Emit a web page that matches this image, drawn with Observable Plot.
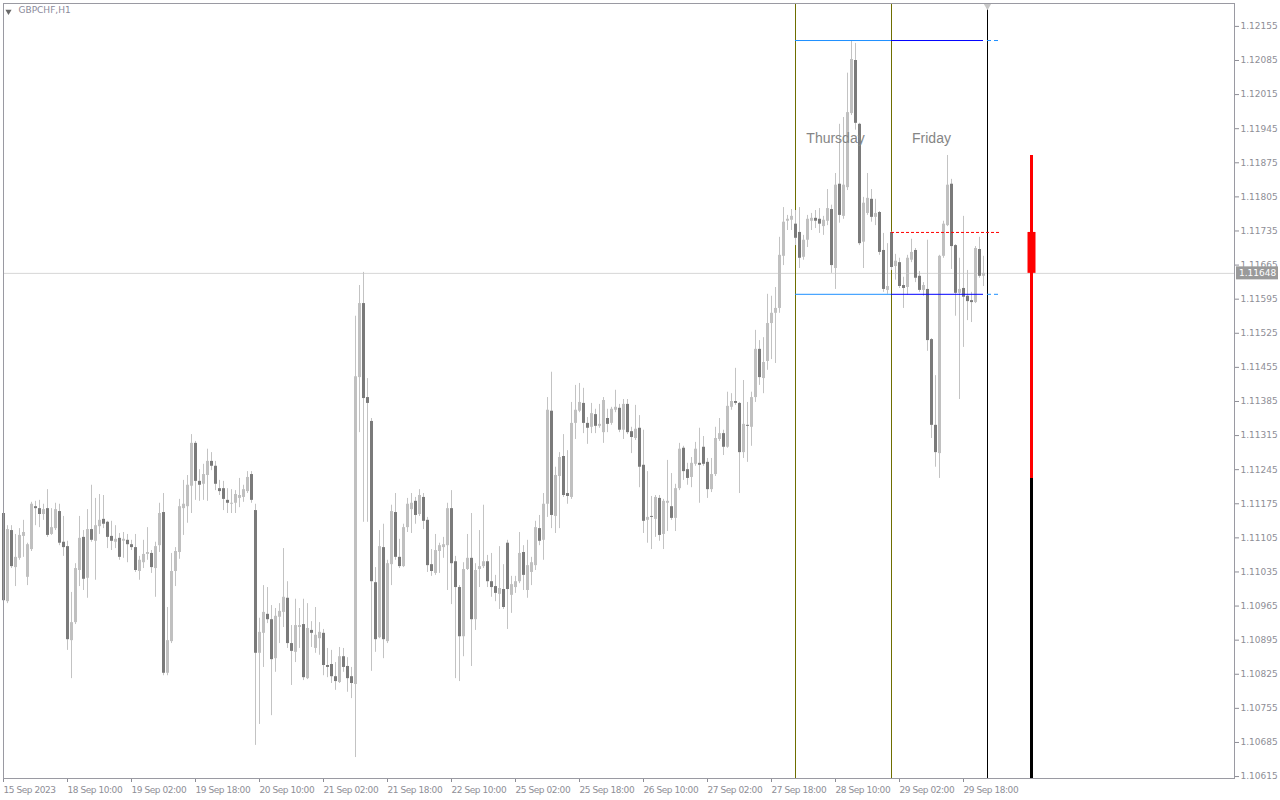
<!DOCTYPE html>
<html>
<head>
<meta charset="utf-8">
<script src="https://cdn.jsdelivr.net/npm/d3@7"></script>
<script src="https://cdn.jsdelivr.net/npm/@observablehq/plot@0.6"></script>
<style>
  html, body { margin: 0; padding: 0; background: #ffffff; }
  #chart { width: 1280px; height: 800px; }
</style>
</head>
<body>
<div id="chart"></div>
<script>
// ---- Data: GBPCHF H1 candles, 15 Sep 2023 18:00 .. 29 Sep 2023 23:00 ----
const symbolTitle = "GBPCHF,H1";
const firstBarTime = Date.UTC(2023, 8, 15, 18);

const opens = [
1.11155,1.10974,1.11120,1.11044,1.11063,1.11108,1.11024,1.11081,1.11169,1.11165,
1.11153,1.11165,1.11112,1.11124,1.11159,1.11096,1.11087,1.10894,1.10931,1.11038,
1.11106,1.11022,1.11122,1.11098,1.11128,1.11143,1.11137,1.11108,1.11096,1.11104,
1.11098,1.11100,1.11091,1.11085,1.11036,1.11054,1.11071,1.11073,1.11042,1.11089,
1.11157,1.10827,1.10892,1.11036,1.11075,1.11165,1.11169,1.11211,1.11299,1.11221,
1.11215,1.11233,1.11262,1.11252,1.11206,1.11206,1.11182,1.11174,1.11176,1.11186,
1.11188,1.11200,1.11235,1.11161,1.10868,1.10909,1.10948,1.10937,1.10857,1.10942,
1.10952,1.10981,1.10888,1.10870,1.10921,1.10927,1.10816,1.10915,1.10878,1.10898,
1.10909,1.10843,1.10845,1.10820,1.10808,1.10861,1.10841,1.10820,1.10804,1.11434,
1.11586,1.11393,1.11344,1.11013,1.10900,1.11085,1.10892,1.11050,1.11157,1.11065,
1.11046,1.11126,1.11163,1.11180,1.11153,1.11188,1.11141,1.11050,1.11032,1.11077,
1.11085,1.11089,1.11165,1.11056,1.11003,1.10902,1.11040,1.11063,1.10937,1.11040,
1.11046,1.11056,1.11015,1.11005,1.10989,1.10999,1.11094,1.10987,1.11003,1.11015,
1.11075,1.10997,1.11034,1.11048,1.11124,1.11100,1.11174,1.11365,1.11149,1.11231,
1.11272,1.11196,1.11188,1.11340,1.11365,1.11381,1.11340,1.11332,1.11358,1.11334,
1.11321,1.11350,1.11340,1.11367,1.11371,1.11326,1.11379,1.11323,1.11309,1.11330,
1.11254,1.11141,1.11149,1.11143,1.11186,1.11112,1.11176,1.11169,1.11145,1.11206,
1.11289,1.11245,1.11229,1.11256,1.11258,1.11291,1.11260,1.11204,1.11235,1.11307,
1.11319,1.11291,1.11373,1.11385,1.11381,1.11280,1.11336,1.11332,1.11393,1.11492,
1.11432,1.11467,1.11545,1.11566,1.11576,1.11683,1.11755,1.11757,1.11749,1.11732,
1.11681,1.11716,1.11755,1.11761,1.11759,1.11744,1.11755,1.11779,1.11658,1.11831,
1.11765,1.11824,1.11976,1.12085,1.11954,1.11712,1.11771,1.11800,1.11763,1.11773,
1.11695,1.11613,1.11732,1.11662,1.11670,1.11623,1.11619,1.11675,1.11695,1.11642,
1.11613,1.11615,1.11512,1.11336,1.11278,1.11683,1.11746,1.11831,1.11705,1.11607,
1.11617,1.11601,1.11592,1.11588,1.11697,1.11642];

const highs = [
1.11188,1.11130,1.11130,1.11112,1.11124,1.11141,1.11094,1.11178,1.11180,1.11182,
1.11174,1.11204,1.11165,1.11176,1.11174,1.11149,1.11098,1.10993,1.11052,1.11149,
1.11120,1.11163,1.11213,1.11186,1.11194,1.11192,1.11139,1.11139,1.11130,1.11114,
1.11116,1.11112,1.11100,1.11112,1.11067,1.11100,1.11126,1.11079,1.11096,1.11176,
1.11196,1.10962,1.11073,1.11085,1.11184,1.11223,1.11233,1.11317,1.11303,1.11245,
1.11256,1.11287,1.11280,1.11262,1.11223,1.11221,1.11206,1.11204,1.11202,1.11227,
1.11213,1.11241,1.11241,1.11174,1.10940,1.11007,1.11003,1.10966,1.10960,1.10970,
1.11083,1.11015,1.10925,1.10979,1.10960,1.10979,1.10970,1.10933,1.10962,1.10931,
1.10917,1.10878,1.10874,1.10849,1.10880,1.10878,1.10859,1.10839,1.11560,1.11623,
1.11650,1.11432,1.11350,1.11044,1.11120,1.11133,1.11059,1.11172,1.11196,1.11102,
1.11133,1.11186,1.11196,1.11188,1.11204,1.11196,1.11147,1.11081,1.11112,1.11094,
1.11106,1.11176,1.11202,1.11067,1.11007,1.11054,1.11112,1.11155,1.11052,1.11120,
1.11172,1.11069,1.11073,1.11028,1.11087,1.11050,1.11100,1.11026,1.11026,1.11116,
1.11089,1.11100,1.11065,1.11139,1.11151,1.11196,1.11393,1.11445,1.11250,1.11280,
1.11317,1.11284,1.11383,1.11418,1.11422,1.11412,1.11352,1.11381,1.11369,1.11379,
1.11393,1.11369,1.11373,1.11408,1.11379,1.11389,1.11389,1.11332,1.11377,1.11356,
1.11326,1.11241,1.11190,1.11192,1.11192,1.11184,1.11264,1.11237,1.11215,1.11299,
1.11293,1.11258,1.11270,1.11301,1.11330,1.11313,1.11268,1.11268,1.11332,1.11350,
1.11326,1.11404,1.11401,1.11453,1.11383,1.11428,1.11383,1.11404,1.11531,1.11510,
1.11516,1.11605,1.11601,1.11619,1.11722,1.11783,1.11767,1.11779,1.11777,1.11783,
1.11726,1.11767,1.11771,1.11777,1.11781,1.11765,1.11820,1.11788,1.11853,1.11954,
1.11968,1.12059,1.12126,1.12120,1.11956,1.11804,1.11853,1.11820,1.11800,1.11775,
1.11730,1.11709,1.11733,1.11687,1.11679,1.11640,1.11685,1.11718,1.11699,1.11652,
1.11629,1.11716,1.11514,1.11438,1.11685,1.11755,1.11890,1.11841,1.11707,1.11679,
1.11765,1.11654,1.11609,1.11703,1.11722,1.11683];

const lows = [
1.10972,1.10970,1.11042,1.11005,1.11059,1.11065,1.11007,1.11077,1.11130,1.11126,
1.11141,1.11106,1.11110,1.11120,1.11089,1.11067,1.10874,1.10816,1.10927,1.11005,
1.10997,1.10981,1.11096,1.11018,1.11112,1.11124,1.11083,1.11079,1.11083,1.11059,
1.11063,1.11054,1.11079,1.11034,1.11018,1.11042,1.11059,1.11032,1.10983,1.11075,
1.10822,1.10822,1.10888,1.11005,1.11061,1.11110,1.11135,1.11155,1.11182,1.11180,
1.11182,1.11180,1.11243,1.11202,1.11192,1.11161,1.11155,1.11155,1.11155,1.11167,
1.11178,1.11196,1.11176,1.10679,1.10722,1.10839,1.10929,1.10740,1.10829,1.10888,
1.10921,1.10878,1.10802,1.10849,1.10878,1.10812,1.10814,1.10880,1.10868,1.10864,
1.10822,1.10818,1.10806,1.10792,1.10806,1.10829,1.10788,1.10775,1.10654,1.11321,
1.11137,1.11137,1.10831,1.10870,1.10898,1.10857,1.10888,1.11007,1.11059,1.11042,
1.11044,1.11116,1.11114,1.11133,1.11149,1.11122,1.11034,1.11026,1.11028,1.11032,
1.11063,1.10997,1.10968,1.10816,1.10810,1.10861,1.11038,1.10841,1.10915,1.11003,
1.11042,1.11003,1.10983,1.10974,1.10958,1.10958,1.10917,1.10950,1.10991,1.11011,
1.10997,1.10981,1.11007,1.11038,1.11089,1.11059,1.11147,1.11124,1.11114,1.11124,
1.11188,1.11174,1.11184,1.11307,1.11362,1.11319,1.11297,1.11319,1.11319,1.11330,
1.11299,1.11321,1.11336,1.11362,1.11321,1.11307,1.11317,1.11278,1.11305,1.11208,
1.11114,1.11094,1.11081,1.11106,1.11098,1.11081,1.11118,1.11141,1.11118,1.11202,
1.11223,1.11213,1.11208,1.11252,1.11176,1.11252,1.11186,1.11198,1.11231,1.11303,
1.11274,1.11289,1.11367,1.11377,1.11196,1.11268,1.11260,1.11293,1.11383,1.11418,
1.11401,1.11449,1.11471,1.11463,1.11566,1.11664,1.11736,1.11736,1.11705,1.11658,
1.11675,1.11701,1.11736,1.11740,1.11730,1.11726,1.11746,1.11648,1.11615,1.11751,
1.11759,1.11818,1.11972,1.11942,1.11705,1.11658,1.11767,1.11753,1.11746,1.11685,
1.11609,1.11605,1.11654,1.11634,1.11617,1.11576,1.11603,1.11670,1.11629,1.11609,
1.11601,1.11488,1.11309,1.11250,1.11227,1.11679,1.11744,1.11656,1.11560,1.11389,
1.11496,1.11551,1.11547,1.11586,1.11638,1.11621];

const closes = [
1.10976,1.11122,1.11046,1.11065,1.11110,1.11116,1.11091,1.11174,1.11165,1.11153,
1.11163,1.11110,1.11126,1.11163,1.11094,1.11085,1.10896,1.10931,1.11042,1.11104,
1.11020,1.11122,1.11100,1.11130,1.11141,1.11133,1.11106,1.11098,1.11102,1.11065,
1.11102,1.11091,1.11085,1.11038,1.11059,1.11071,1.11075,1.11044,1.11087,1.11155,
1.10827,1.10894,1.11036,1.11077,1.11169,1.11174,1.11213,1.11299,1.11221,1.11213,
1.11235,1.11262,1.11252,1.11215,1.11200,1.11184,1.11176,1.11176,1.11194,1.11192,
1.11204,1.11229,1.11182,1.10868,1.10911,1.10952,1.10937,1.10855,1.10944,1.10954,
1.10983,1.10888,1.10872,1.10925,1.10925,1.10818,1.10919,1.10909,1.10905,1.10911,
1.10843,1.10839,1.10820,1.10810,1.10861,1.10839,1.10816,1.10806,1.11436,1.11586,
1.11391,1.11381,1.11015,1.10896,1.11087,1.10896,1.11052,1.11159,1.11065,1.11046,
1.11126,1.11174,1.11176,1.11151,1.11192,1.11139,1.11048,1.11036,1.11079,1.11089,
1.11091,1.11165,1.11052,1.11003,1.10902,1.11040,1.11063,1.10937,1.11038,1.11046,
1.11056,1.11015,1.11003,1.10991,1.11001,1.10962,1.10999,1.11009,1.11015,1.11073,
1.11028,1.11048,1.11054,1.11126,1.11098,1.11174,1.11367,1.11151,1.11233,1.11270,
1.11192,1.11190,1.11340,1.11367,1.11383,1.11340,1.11330,1.11360,1.11334,1.11338,
1.11387,1.11338,1.11369,1.11373,1.11326,1.11379,1.11321,1.11311,1.11328,1.11250,
1.11139,1.11147,1.11147,1.11188,1.11110,1.11180,1.11180,1.11145,1.11206,1.11287,
1.11241,1.11227,1.11258,1.11287,1.11254,1.11256,1.11204,1.11235,1.11309,1.11319,
1.11291,1.11375,1.11385,1.11381,1.11280,1.11338,1.11334,1.11393,1.11492,1.11434,
1.11465,1.11545,1.11566,1.11576,1.11685,1.11753,1.11759,1.11765,1.11720,1.11679,
1.11716,1.11759,1.11761,1.11755,1.11749,1.11757,1.11781,1.11664,1.11829,1.11767,
1.11829,1.11978,1.12087,1.11956,1.11709,1.11792,1.11802,1.11763,1.11771,1.11691,
1.11615,1.11621,1.11660,1.11673,1.11621,1.11617,1.11679,1.11691,1.11638,1.11613,
1.11623,1.11510,1.11336,1.11280,1.11683,1.11749,1.11829,1.11703,1.11607,1.11615,
1.11599,1.11590,1.11588,1.11699,1.11642,1.11648];

// price axis tick labels (right side)
const yTicks = [1.12155,1.12085,1.12015,1.11945,1.11875,1.11805,1.11735,1.11665,1.11595,1.11525,
  1.11455,1.11385,1.11315,1.11245,1.11175,1.11105,1.11035,1.10965,1.10895,1.10825,1.10755,1.10685,1.10615];
// time axis tick labels (bottom)
const xTickLabels = ["15 Sep 2023","18 Sep 10:00","19 Sep 02:00","19 Sep 18:00","20 Sep 10:00","21 Sep 02:00",
  "21 Sep 18:00","22 Sep 10:00","25 Sep 02:00","25 Sep 18:00","26 Sep 10:00","27 Sep 02:00","27 Sep 18:00",
  "28 Sep 10:00","29 Sep 02:00","29 Sep 18:00"];
// session objects (previous day = Thursday, current day = Friday)
const sessionNames = ["Thursday", "Friday"];
const sessionDates = [28, 29];
const sessionLabelHour = 10;
const sessionLabelPrice = 1.11925;
const yDomain = [1.10611, 1.12202];
const visibleBars = 307.75;
const projectionBars = 3.5;
const dailyCandleOffset = 11;

// ---- Build bar table ----
const months = ["Jan","Feb","Mar","Apr","May","Jun","Jul","Aug","Sep","Oct","Nov","Dec"];
const times = [];
for (let t = firstBarTime; times.length < opens.length + 1; t += 3600e3) {
  const d = new Date(t), wd = d.getUTCDay();
  if (wd !== 0 && wd !== 6) times.push(d);
}
const fmt = d => `${d.getUTCDate()} ${months[d.getUTCMonth()]} ${String(d.getUTCHours()).padStart(2,"0")}:00`;
const bars = opens.map((o, i) => ({i, open: o, high: highs[i], low: lows[i], close: closes[i]}));
const bull = bars.filter(d => d.close >= d.open);
const bear = bars.filter(d => d.close < d.open);

const tickIdx = xTickLabels.map((lab, k) => k === 0 ? 0 : times.findIndex(t => fmt(t) === lab));
const labelByIdx = new Map(tickIdx.map((v, k) => [v, xTickLabels[k]]));

const starts = sessionDates.map(day => times.findIndex(t => t.getUTCDate() === day && t.getUTCHours() === 0));
const endIdx = opens.length; // first bar after the Friday session
const thu = bars.slice(starts[0], starts[1]);
const fri = bars.slice(starts[1]);
const thuHigh = d3.max(thu, d => d.high), thuLow = d3.min(thu, d => d.low);
const friOpen = fri[0].open, friHigh = d3.max(fri, d => d.high), friLow = d3.min(fri, d => d.low);
const lastClose = closes[closes.length - 1];
const projEnd = endIdx + projectionBars;
const dailyX = endIdx + dailyCandleOffset;

const bullColor = "#c0c0c0", bearColor = "#7a7a7a", wickColor = "#c3c3c3";
const olive = "#6e6e00";

const chart = Plot.plot({
  width: 1280, height: 800,
  marginLeft: 3, marginRight: 46, marginTop: 3, marginBottom: 22,
  style: {background: "#ffffff", fontFamily: "DejaVu Sans, sans-serif", fontSize: "9px", color: "#8e8e96"},
  x: {type: "linear", domain: [0, visibleBars], axis: "bottom", ticks: tickIdx, tickFormat: i => labelByIdx.get(i),
      tickSize: 4, tickPadding: 4, label: null},
  y: {domain: yDomain, axis: "right", ticks: yTicks, tickFormat: d => d.toFixed(5), tickSize: 4, tickPadding: 2, label: null},
  marks: [
    Plot.ruleY([lastClose], {stroke: "#d6d6d6"}),
    // session separators
    Plot.ruleX(starts, {stroke: olive}),
    Plot.ruleX([endIdx], {stroke: "#000000"}),
    // candles
    Plot.ruleX(bars, {x: "i", y1: "low", y2: "high", stroke: wickColor}),
    Plot.ruleX(bull, {x: "i", y1: "open", y2: "close", stroke: bullColor, strokeWidth: 3}),
    Plot.ruleX(bear, {x: "i", y1: "open", y2: "close", stroke: bearColor, strokeWidth: 3}),
    // previous day high / low
    Plot.ruleY([thuHigh, thuLow], {x1: starts[0], x2: starts[1], stroke: "#1e90ff"}),
    Plot.ruleY([thuHigh, thuLow], {x1: starts[1], x2: endIdx - 1, stroke: "#0000ff"}),
    Plot.ruleY([thuHigh, thuLow], {x1: endIdx, x2: projEnd, stroke: "#1e90ff", strokeDasharray: "4,3"}),
    // current day open
    Plot.ruleY([friOpen], {x1: starts[1], x2: projEnd, stroke: "#ff0000", strokeDasharray: "3,2"}),
    // daily candle
    Plot.ruleX([dailyX], {y1: friLow, y2: yDomain[0], stroke: "#000000", strokeWidth: 3}),
    Plot.ruleX([dailyX], {y1: friLow, y2: friHigh, stroke: "#ff0000", strokeWidth: 3}),
    Plot.ruleX([dailyX], {y1: friOpen, y2: lastClose, stroke: "#ff0000", strokeWidth: 8}),
    // session names
    Plot.text(sessionNames, {x: (d, k) => starts[k] + sessionLabelHour, y: () => sessionLabelPrice, text: d => d,
      fill: "#858585", fontSize: 14, fontFamily: "Liberation Sans, Arial, sans-serif"}),
    // title
    Plot.text([symbolTitle], {frameAnchor: "top-left", dx: 15, dy: 3, textAnchor: "start", lineAnchor: "top",
      fill: "#8a8a9a", fontSize: 9}),
    Plot.dot([0], {frameAnchor: "top-left", dx: 5, dy: 8, symbol: "triangle", r: 2.3, rotate: 180, fill: "#6a6a6a", stroke: null}),
    Plot.dot([endIdx], {x: d => d, frameAnchor: "top", dy: 2, symbol: "triangle", r: 3, rotate: 180, fill: "#c8c8c8", stroke: null}),
    Plot.frame({stroke: "#9a9aa2"})
  ]
});

// left-align time labels as in the terminal, slightly tighter lettering
d3.select(chart).selectAll('g[aria-label^="x-axis"] text')
  .attr("text-anchor", "start").attr("letter-spacing", "-0.45px");

// current price tag on the price axis
const ys = chart.scale("y"), xs = chart.scale("x");
const yy = ys.apply(lastClose), xr = xs.range[1];
const tag = d3.select(chart).append("g");
tag.append("rect").attr("x", xr + 2).attr("y", yy - 6.5).attr("width", 42).attr("height", 13).attr("fill", "#9a9a9a");
tag.append("text").attr("x", xr + 5).attr("y", yy).attr("dy", "0.34em").attr("fill", "#ffffff")
  .attr("text-anchor", "start")
  .attr("font-family", "DejaVu Sans, sans-serif").attr("font-size", 9).text(lastClose.toFixed(5));

document.getElementById("chart").appendChild(chart);
</script>
</body>
</html>
